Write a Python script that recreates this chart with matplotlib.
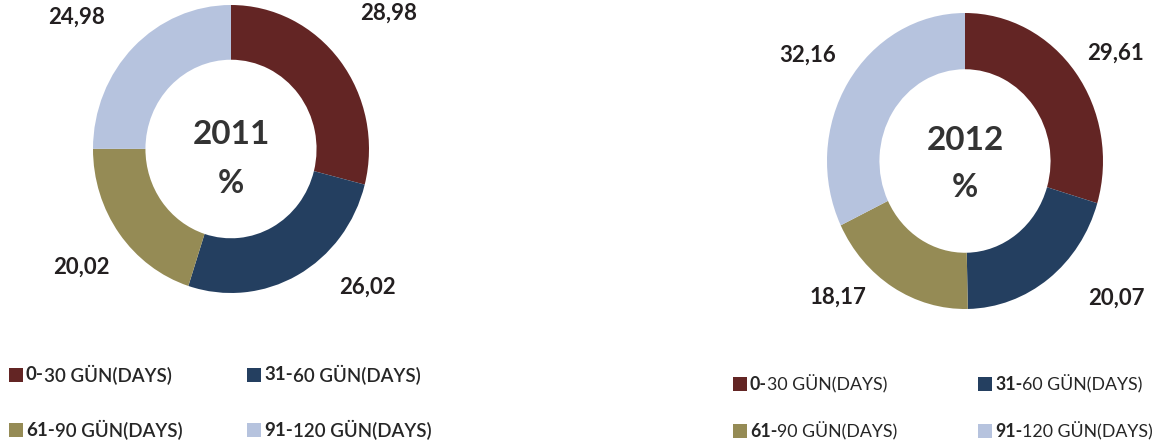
import numpy as np
import matplotlib
matplotlib.use('Agg')
import matplotlib.pyplot as plt
from matplotlib.patches import Rectangle

plt.rcParams['font.family'] = ['Lato', 'DejaVu Sans']

# categories and values
categories = ['0-30 GÜN(DAYS)', '31-60 GÜN(DAYS)', '61-90 GÜN(DAYS)', '91-120 GÜN(DAYS)']
values_2011 = [28.98, 26.02, 20.02, 24.98]
values_2012 = [29.61, 20.07, 18.17, 32.16]
labels_2011 = ['28,98', '26,02', '20,02', '24,98']
labels_2012 = ['29,61', '20,07', '18,17', '32,16']
colors = ['#632524', '#243F60', '#958B55', '#B6C3DE']
txt_color = '#231F20'

W, H = 1158, 448
fig = plt.figure(figsize=(W / 100, H / 100), dpi=100)


def px_axes(x0, y0, x1, y1):
    # pixel box (top-left origin) -> figure fraction axes
    return fig.add_axes([x0 / W, 1 - y1 / H, (x1 - x0) / W, (y1 - y0) / H])


def donut(ax, vals, labs, year, lab_xy, title_y):
    ax.pie(vals, colors=colors, startangle=90, counterclock=False,
           radius=1, wedgeprops=dict(width=0.38, linewidth=0))
    ax.set_aspect('auto')
    ax.set_xlim(-1, 1)
    ax.set_ylim(-1, 1)
    # data labels, "best fit" spots like the original
    for (lx, ly), lab in zip(lab_xy, labs):
        ax.text(lx, ly, lab, ha='center', va='center', fontsize=16,
                fontweight='bold', color=txt_color, clip_on=False)
    ax.text(0, title_y[0], year, ha='center', va='center', fontsize=24,
            fontweight='bold', color='#333333')
    ax.text(0, title_y[1], '%', ha='center', va='center', fontsize=23,
            fontweight='bold', color='#333333')


ax1 = px_axes(93, 5, 369, 293)
donut(ax1, values_2011, labels_2011, '2011',
      [(1.145, 0.94), (0.99, -0.96), (-1.087, -0.82), (-1.12, 0.917)],
      (0.10, -0.24))

ax2 = px_axes(827, 13, 1103, 309)
donut(ax2, values_2012, labels_2012, '2012',
      [(1.087, 0.73), (1.10, -0.926), (-0.92, -0.92), (-1.14, 0.716)],
      (0.14, -0.18))

fig.canvas.draw()
renderer = fig.canvas.get_renderer()


def legend_item(x, y, color, label, size, rest_weight):
    # square + bold leading number + lighter rest
    fig.add_artist(Rectangle((x / W, 1 - (y + 7) / H), 14 / W, 14 / H,
                             transform=fig.transFigure, color=color, lw=0))
    head, rest = label.split('-', 1)
    t = fig.text((x + 17) / W, 1 - y / H, head + '-', ha='left', va='center',
                 fontsize=size, fontweight='bold', color='#262626')
    bb = t.get_window_extent(renderer)
    fig.text(bb.x1 / W, 1 - y / H, rest, ha='left', va='center',
             fontsize=size, fontweight=rest_weight, color='#262626')


legend_pos = {
    'left': [(9, 375), (247, 375), (9, 430), (247, 430)],
    'right': [(733, 384), (978, 384), (733, 431), (978, 431)],
}
styles = {'left': (13.5, 'semibold'), 'right': (12.8, 'normal')}
for side in legend_pos:
    size, wt = styles[side]
    for (x, y), c, lab in zip(legend_pos[side], colors, categories):
        legend_item(x, y, c, lab, size, wt)

fig.savefig('out.png', dpi=100)
